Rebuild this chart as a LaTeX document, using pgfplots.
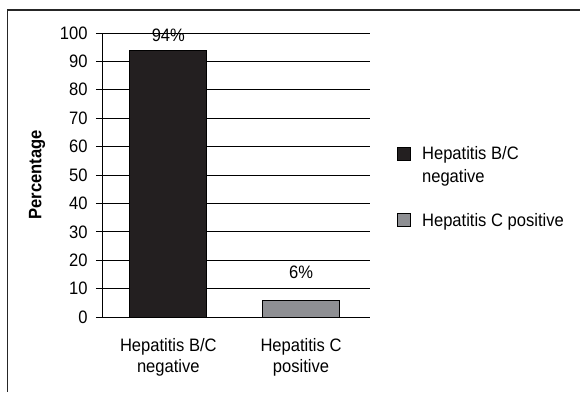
\documentclass[border=0pt]{standalone}
\usepackage{fontspec}
\setmainfont{Liberation Sans}[FakeStretch=0.92]
\usepackage{pgfplots}
\pgfplotsset{compat=1.18}
\definecolor{barblack}{HTML}{231F20}
\definecolor{bargray}{HTML}{8E8F93}
\newcommand{\chartfont}{\fontsize{18bp}{21bp}\selectfont}
\newcommand{\legendfont}{\fontsize{18bp}{23bp}\selectfont}
% legend squares: one level with a single-line entry, one raised to the first line of a two-line entry
\pgfplotsset{
  square legend/.style={legend image code/.code={%
    \draw[##1, line width=0.8bp] (0bp,-0.5bp) rectangle (13bp,12.5bp);
    \path (22bp,0bp);}},
  raised square legend/.style={legend image code/.code={%
    \draw[##1, line width=0.8bp] (0bp,22.5bp) rectangle (13bp,35.5bp);
    \path (22bp,0bp);}},
}
\begin{document}
\begin{tikzpicture}[x=1bp,y=1bp,font=\chartfont]
\useasboundingbox (-102,-75) rectangle (478,317);
% outer frame (top and left edges)
\draw[line width=1.5bp, black!85] (-94.5,307) -- (478,307);
\draw[line width=1.5bp, black!85] (-94.5,307) -- (-94.5,-75);
\begin{axis}[
  at={(0,0)}, anchor=south west,
  scale only axis, clip=false,
  width=268bp, height=284bp,
  xmin=-0.5, xmax=1.52,
  ymin=0, ymax=100,
  ytick={0,10,...,100},
  xtick={0,1},
  xticklabels={{Hepatitis B/C\\negative},{Hepatitis C\\positive}},
  xticklabel style={align=center, yshift=-12bp},
  x tick label style={font=\chartfont},
  y tick label style={font=\chartfont, xshift=-5bp},
  /pgf/number format/assume math mode=true,
  axis x line*=bottom, axis y line*=left,
  axis line style={-, line width=0.9bp},
  x tick style={draw=none},
  y tick style={line width=0.9bp, black},
  tick align=outside,
  major tick length=6bp,
  ymajorgrids,
  grid style={line width=0.9bp, black},
  ylabel={Percentage},
  ylabel style={font=\chartfont\bfseries, at={(axis description cs:-0.2425,0.5)}, anchor=center},
  ybar, bar width=77bp, bar shift=0pt,
  legend style={draw=none, at={(1.09,0.615)}, anchor=north west,
    cells={anchor=base west, align=left}, row sep=25bp,
    font=\legendfont},
]
\addplot[fill=barblack, draw=black, line width=0.8bp, raised square legend] coordinates {(0,94)};
\addplot[fill=bargray, draw=black, line width=0.8bp, square legend] coordinates {(1,6)};
\legend{{Hepatitis B/C\\negative},{Hepatitis C positive}}
\node at (axis cs:0,99.2) {94\%};
\node at (axis cs:1,15.8) {6\%};
\end{axis}
\end{tikzpicture}
\end{document}
